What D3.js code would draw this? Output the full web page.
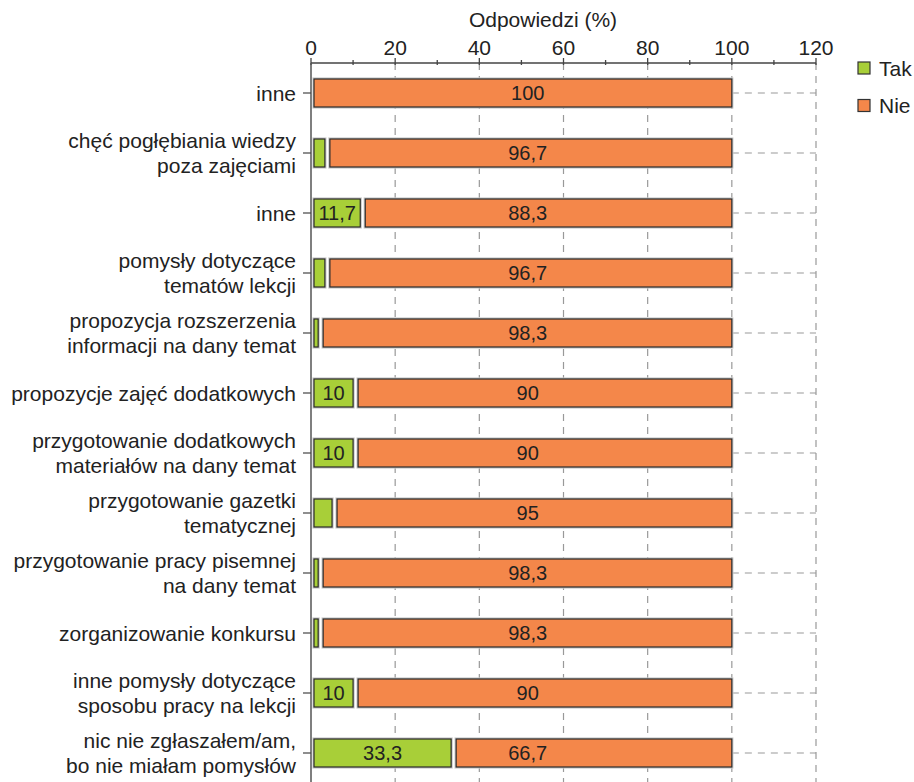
<!DOCTYPE html>
<html>
<head>
<meta charset="utf-8">
<script src="https://cdn.jsdelivr.net/npm/d3@7/dist/d3.min.js"></script>
<style>
  html, body { margin: 0; padding: 0; background: #fff; }
  svg { display: block; font-family: "Liberation Sans", Arial, sans-serif; }
</style>
</head>
<body>
<svg id="chart" width="914" height="782"></svg>
<script>
// ---- data ----
const categories = [
  ["inne"],
  ["chęć pogłębiania wiedzy", "poza zajęciami"],
  ["inne"],
  ["pomysły dotyczące", "tematów lekcji"],
  ["propozycja rozszerzenia", "informacji na dany temat"],
  ["propozycje zajęć dodatkowych"],
  ["przygotowanie dodatkowych", "materiałów na dany temat"],
  ["przygotowanie gazetki", "tematycznej"],
  ["przygotowanie pracy pisemnej", "na dany temat"],
  ["zorganizowanie konkursu"],
  ["inne pomysły dotyczące", "sposobu pracy na lekcji"],
  ["nic nie zgłaszałem/am,", "bo nie miałam pomysłów"]
];
const takValues = [0, 3.3, 11.7, 3.3, 1.7, 10, 10, 5, 1.7, 1.7, 10, 33.3];
const nieValues = [100, 96.7, 88.3, 96.7, 98.3, 90, 90, 95, 98.3, 98.3, 90, 66.7];
const takLabels = ["", "", "11,7", "", "", "10", "10", "", "", "", "10", "33,3"];
const nieLabels = ["100", "96,7", "88,3", "96,7", "98,3", "90", "90", "95", "98,3", "98,3", "90", "66,7"];
const xTicks = [0, 20, 40, 60, 80, 100, 120];
const xMinorTicks = [10, 30, 50, 70, 90, 110];
const seriesNames = ["Tak", "Nie"];
const axisTitle = "Odpowiedzi (%)";

// ---- layout ----
const colors = { Tak: "#a8cf38", Nie: "#f4874a" };
const svg = d3.select("#chart");
const x = d3.scaleLinear().domain([0, 120]).range([311, 816]);
const y = d3.scaleBand().domain(d3.range(categories.length)).range([63, 783]);
const barH = 28;
const fs = 21;
const fsNum = 20;
const textColor = "#222";

// gridlines
const grid = svg.append("g");
grid.selectAll("line.v").data(xTicks.filter(t => t > 0)).join("line")
  .attr("x1", d => x(d)).attr("x2", d => x(d))
  .attr("y1", 63).attr("y2", 782)
  .attr("stroke", "#999").attr("stroke-width", 1.2).attr("stroke-dasharray", "7,6");
grid.selectAll("line.h").data(d3.range(categories.length)).join("line")
  .attr("x1", x(100)).attr("x2", x(120))
  .attr("y1", i => y(i) + y.bandwidth() / 2).attr("y2", i => y(i) + y.bandwidth() / 2)
  .attr("stroke", "#999").attr("stroke-width", 1.2).attr("stroke-dasharray", "7,6");

// bars
const rows = svg.append("g").selectAll("g").data(d3.range(categories.length)).join("g")
  .attr("transform", i => `translate(0,${y(i) + y.bandwidth() / 2})`);

function seg(sel, x0fn, x1fn, color) {
  sel.append("rect")
    .attr("x", x0fn).attr("width", i => Math.max(0, x1fn(i) - x0fn(i)))
    .attr("y", -barH / 2).attr("height", barH)
    .attr("fill", "none").attr("stroke", "#c8c8c8").attr("stroke-width", 3.2);
  sel.append("rect")
    .attr("x", x0fn).attr("width", i => Math.max(0, x1fn(i) - x0fn(i)))
    .attr("y", -barH / 2).attr("height", barH)
    .attr("fill", color).attr("stroke", "#2b2b2b").attr("stroke-width", 1.2);
}
const takRows = rows.filter(i => takValues[i] > 0);
seg(takRows, () => x(0) + 3, i => x(takValues[i]), colors.Tak);
seg(rows, i => takValues[i] > 0 ? x(takValues[i]) + 5 : x(0) + 3,
          i => x(takValues[i] + nieValues[i]), colors.Nie);

rows.append("text")
  .attr("x", i => (x(0) + 3 + x(takValues[i])) / 2)
  .attr("dy", "0.36em").attr("text-anchor", "middle")
  .attr("font-size", fsNum).attr("fill", textColor)
  .text(i => takLabels[i]);
rows.append("text")
  .attr("x", x(51.5))
  .attr("dy", "0.36em").attr("text-anchor", "middle")
  .attr("font-size", fsNum).attr("fill", textColor)
  .text(i => nieLabels[i]);

// top axis
const axisG = svg.append("g").attr("transform", "translate(0,63)");
axisG.append("line").attr("x1", x(0)).attr("x2", x(120)).attr("stroke", "#444").attr("stroke-width", 1.3);
axisG.selectAll("line.maj").data(xTicks).join("line")
  .attr("x1", d => x(d)).attr("x2", d => x(d)).attr("y1", -5).attr("y2", 2)
  .attr("stroke", "#444").attr("stroke-width", 1.3);
axisG.selectAll("line.min").data(xMinorTicks).join("line")
  .attr("x1", d => x(d)).attr("x2", d => x(d)).attr("y1", -3).attr("y2", 2)
  .attr("stroke", "#444").attr("stroke-width", 1.3);
axisG.selectAll("text").data(xTicks).join("text")
  .attr("x", d => x(d)).attr("y", -8)
  .attr("text-anchor", "middle").attr("font-size", fs).attr("fill", textColor)
  .text(d => d);
svg.append("text").attr("x", 543).attr("y", 27)
  .attr("text-anchor", "middle").attr("font-size", fs).attr("fill", textColor)
  .text(axisTitle);

// left axis
svg.append("line").attr("x1", x(0)).attr("x2", x(0)).attr("y1", 63).attr("y2", 782)
  .attr("stroke", "#555").attr("stroke-width", 1.5);
const left = svg.append("g").selectAll("g").data(d3.range(categories.length)).join("g")
  .attr("transform", i => `translate(0,${y(i) + y.bandwidth() / 2})`);
left.append("line").attr("x1", x(0) - 8).attr("x2", x(0)).attr("stroke", "#444").attr("stroke-width", 1.2);
left.each(function(i) {
  const lines = categories[i];
  const g = d3.select(this);
  const lh = 25;
  lines.forEach((t, k) => {
    g.append("text")
      .attr("x", 296).attr("y", (k - (lines.length - 1) / 2) * lh)
      .attr("dy", "0.36em").attr("text-anchor", "end")
      .attr("font-size", fs).attr("fill", textColor)
      .text(t);
  });
});

// legend
const leg = svg.append("g").selectAll("g").data(seriesNames).join("g")
  .attr("transform", (d, i) => `translate(858,${68 + i * 37.5})`);
leg.append("rect").attr("x", 0).attr("y", -6).attr("width", 12).attr("height", 12)
  .attr("fill", d => colors[d]).attr("stroke", "#333").attr("stroke-width", 1.2);
leg.append("text").attr("x", 21).attr("dy", "0.36em")
  .attr("font-size", fs).attr("fill", textColor).text(d => d);
</script>
</body>
</html>
